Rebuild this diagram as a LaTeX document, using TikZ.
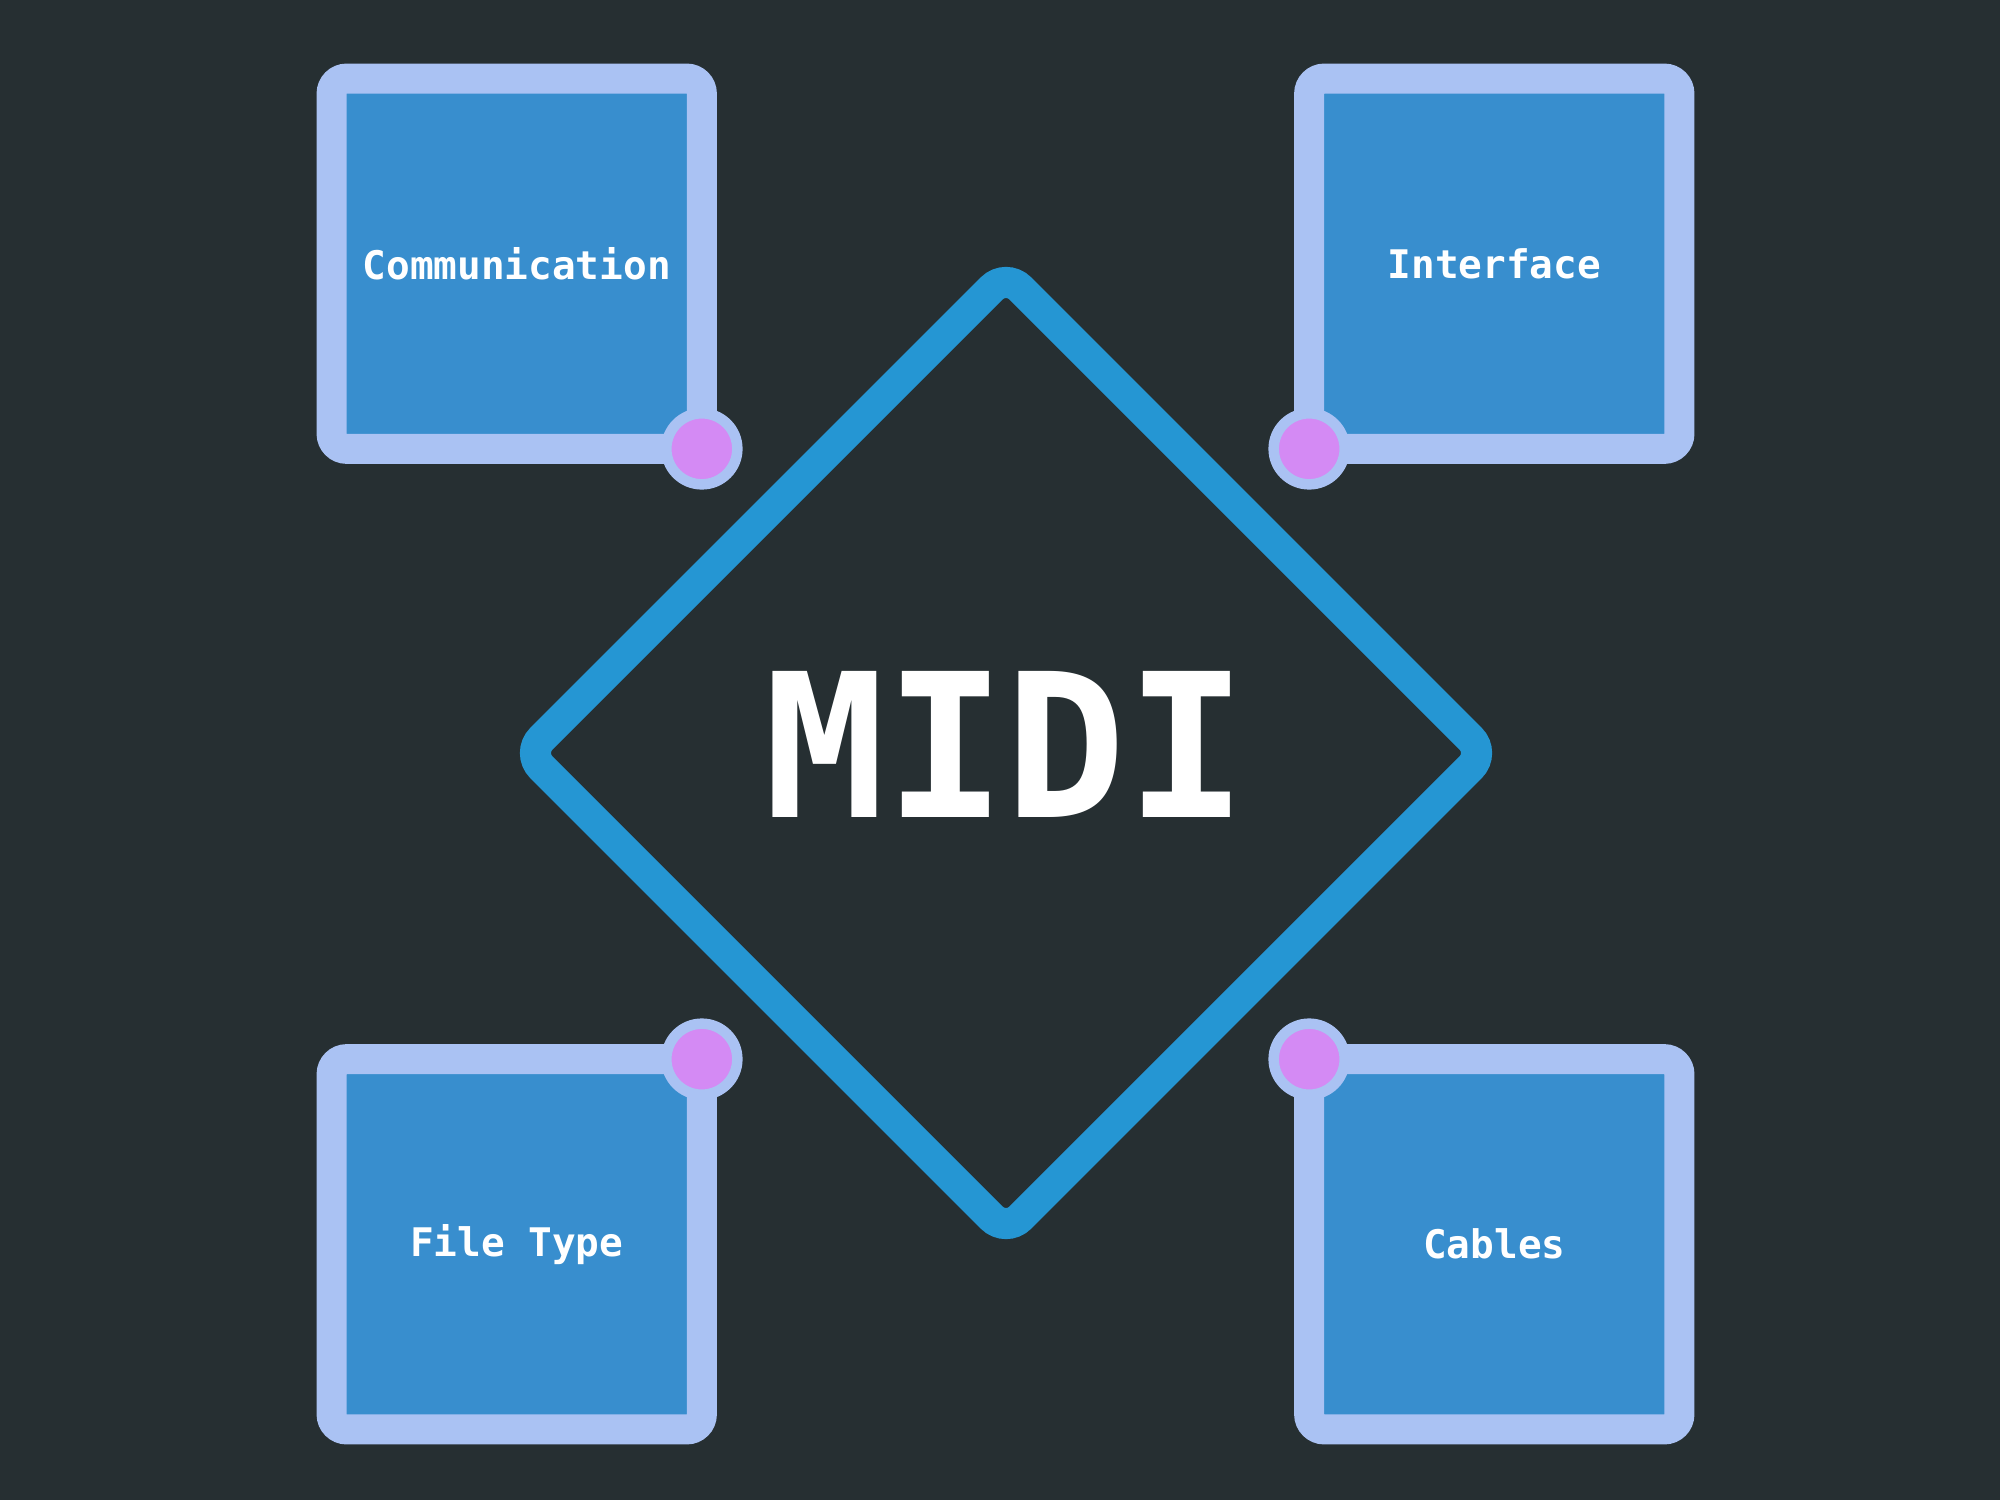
\documentclass[tikz,border=0pt]{standalone}
\usepackage{fontspec}
\newfontfamily\codefont{DejaVu Sans Mono}
\usepackage{xcolor}
\usetikzlibrary{positioning, shapes.geometric}

\definecolor{bgdark}{HTML}{262F32}
\definecolor{ringblue}{HTML}{AAC2F3}
\definecolor{boxblue}{HTML}{388ECE}
\definecolor{coreblue}{HTML}{2596D3}
\definecolor{dotpink}{HTML}{D48AF4}

\begin{document}
\begin{tikzpicture}[
        x=0.01cm, y=-0.01cm,
        node distance=4.89cm,
        on grid,
        topic/.style={rectangle, draw=ringblue, fill=boxblue, line width=0.3cm,
          rounded corners=0.15cm, minimum size=3.7cm, outer sep=0pt, text=white,
        font=\codefont\bfseries\fontsize{11.2}{13}\selectfont},
        core/.style={diamond, aspect=1, draw=coreblue, line width=0.31cm,
          rounded corners=0.2cm, minimum size=9.7cm, inner sep=0pt,
          text depth=0.18cm, text=white,
        font=\codefont\bfseries\fontsize{57}{62}\selectfont},
        dot/.style={circle, draw=ringblue, fill=dotpink, line width=0.105cm,
        minimum size=0.71cm, inner sep=0pt},
      ]

      \fill[bgdark] (0,0) rectangle (2000,1500);

      \node[core] (midi) at (1006,753) {MIDI};

      \node[topic, above left=4.89cm and 4.89cm of midi]  (comm) {Communication};
      \node[topic, above right=4.89cm and 4.88cm of midi] (iface) {Interface};
      \node[topic, below left=4.91cm and 4.89cm of midi]  (file) {File Type};
      \node[topic, below right=4.91cm and 4.88cm of midi] (cable) {Cables};

      % corner dots
      \node[dot] (commdot)  at (comm.south east) {};
      \node[dot] (ifacedot) at (iface.south west) {};
      \node[dot] (filedot)  at (file.north east) {};
      \node[dot] (cabledot) at (cable.north west) {};

    \end{tikzpicture}
\end{document}
